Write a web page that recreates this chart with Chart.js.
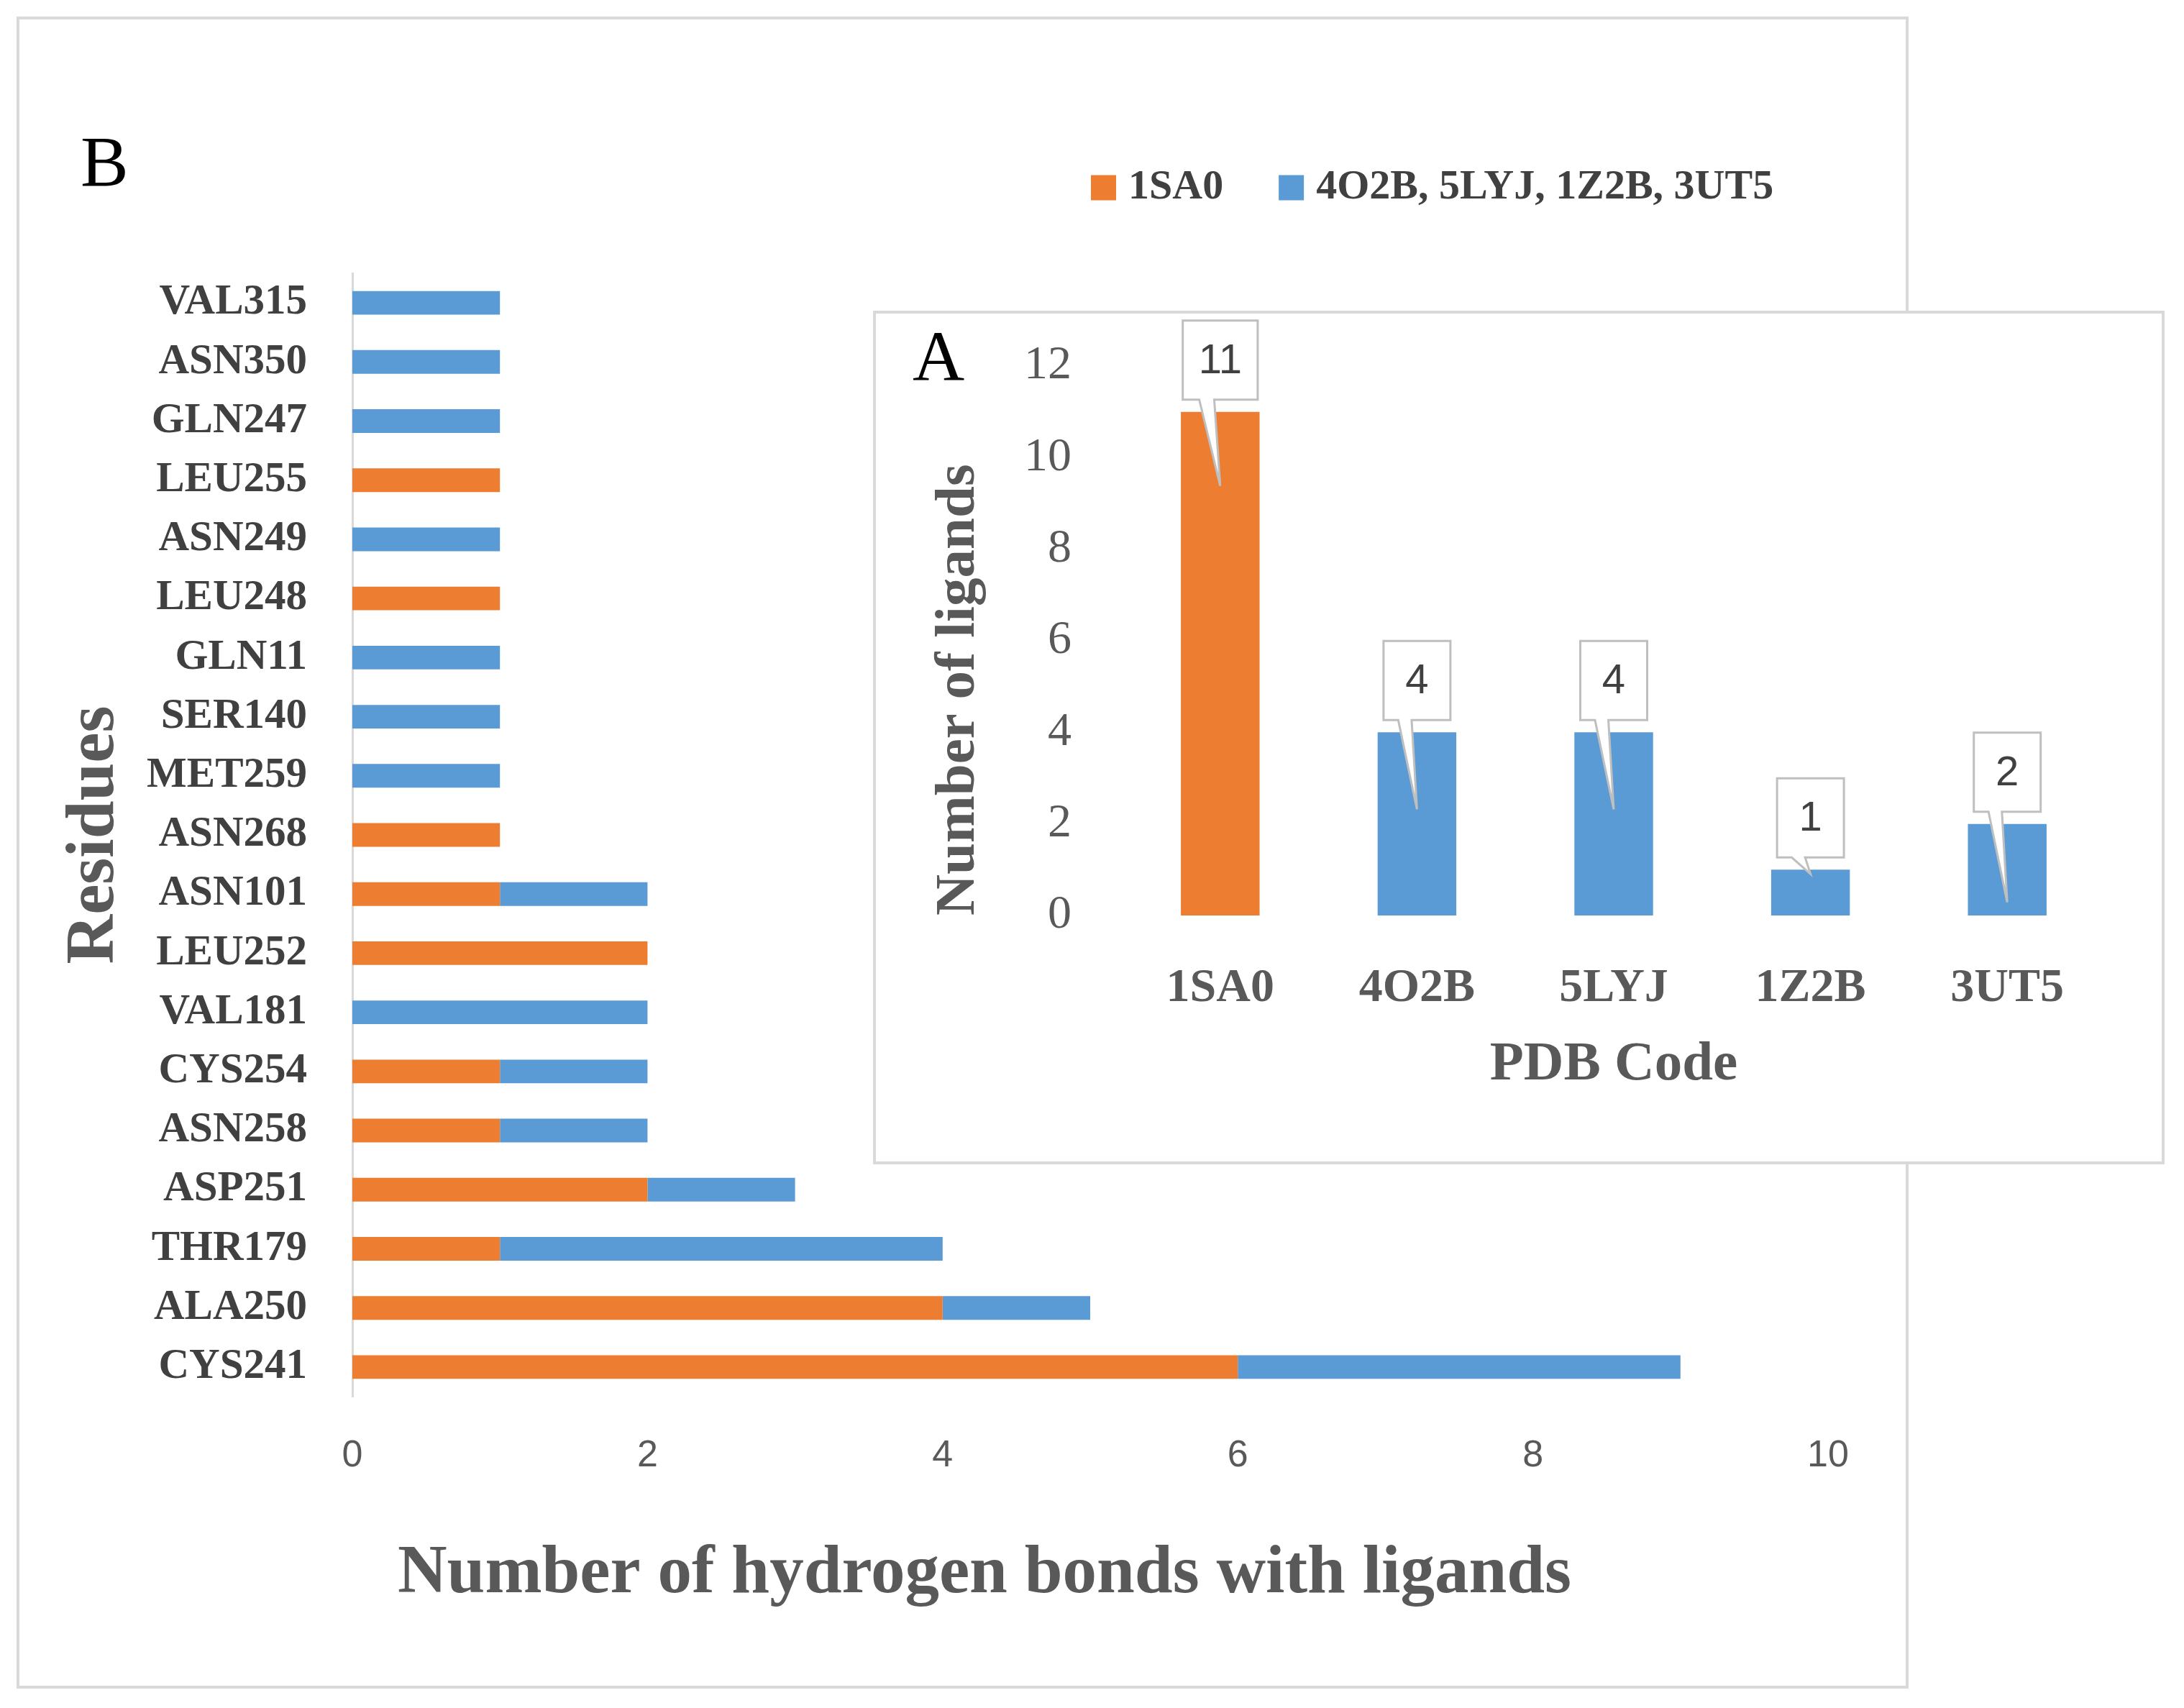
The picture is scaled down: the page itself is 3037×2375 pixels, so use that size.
<!DOCTYPE html>
<html>
<head>
<meta charset="utf-8">
<script src="https://cdn.jsdelivr.net/npm/chart.js@4.4.1/dist/chart.umd.min.js"></script>
<style>
  html, body { margin: 0; padding: 0; background: #fff; }
  body { width: 3037px; height: 2375px; position: relative; overflow: hidden; }
  #boxB { position: absolute; left: 23px; top: 23px; width: 2631px; height: 2325px; }
  #boxA { position: absolute; left: 1214px; top: 432px; width: 1796px; height: 1187px; }
</style>
</head>
<body>
<div id="boxB"><canvas id="chartB" width="2631" height="2325"></canvas></div>
<div id="boxA"><canvas id="chartA" width="1796" height="1187"></canvas></div>
<script>
// ── Données (panneau B : liaisons H par résidu) ─────────────────────────────
const residues = ['VAL315', 'ASN350', 'GLN247', 'LEU255', 'ASN249', 'LEU248', 'GLN11',
  'SER140', 'MET259', 'ASN268', 'ASN101', 'LEU252', 'VAL181', 'CYS254', 'ASN258',
  'ASP251', 'THR179', 'ALA250', 'CYS241'];
const bonds1SA0   = [0, 0, 0, 1, 0, 1, 0, 0, 0, 1, 1, 2, 0, 1, 1, 2, 1, 4, 6];
const bondsOthers = [1, 1, 1, 0, 1, 0, 1, 1, 1, 0, 1, 0, 2, 1, 1, 1, 3, 1, 3];
const seriesNames = ['1SA0', '4O2B, 5LYJ, 1Z2B, 3UT5'];
const bondsAxisMax = 10;

// ── Données (panneau A : ligands par code PDB) ─────────────────────────────
const pdbCodes     = ['1SA0', '4O2B', '5LYJ', '1Z2B', '3UT5'];
const ligandCounts = [11, 4, 4, 1, 2];
const ligandAxisMax = 12;

const ORANGE = '#ED7D31';
const BLUE   = '#5B9BD5';
const SERIF  = "'Liberation Serif', serif";
const SANS   = "'Liberation Sans', sans-serif";

Chart.defaults.font.family = SERIF;

// ── Plugins ────────────────────────────────────────────────────────────────
const framePlugin = {
  id: 'frame',
  beforeDraw(chart) {
    const { ctx, width, height } = chart;
    ctx.save();
    ctx.fillStyle = '#ffffff';
    ctx.fillRect(0, 0, width, height);
    ctx.strokeStyle = '#d9d9d9';
    ctx.lineWidth = 4;
    ctx.strokeRect(2, 2, width - 4, height - 4);
    ctx.restore();
  },
};

const panelLetter = {
  id: 'panelLetter',
  afterDraw(chart, args, opts) {
    const ctx = chart.ctx;
    ctx.save();
    ctx.font = `${opts.size}px ${SERIF}`;
    ctx.fillStyle = '#000000';
    ctx.textBaseline = 'middle';
    ctx.fillText(opts.text, opts.x, opts.y);
    ctx.restore();
  },
};

// légende maison, lue dans les datasets
const legendB = {
  id: 'legendB',
  afterDraw(chart, args, opts) {
    const ctx = chart.ctx;
    ctx.save();
    ctx.font = `bold 58px ${SERIF}`;
    ctx.textBaseline = 'middle';
    let x = opts.x;
    const y = opts.y, sq = 35;
    chart.data.datasets.forEach(ds => {
      ctx.fillStyle = ds.backgroundColor;
      ctx.fillRect(x, y - sq / 2, sq, sq);
      x += sq + 17;
      ctx.fillStyle = '#404040';
      ctx.fillText(ds.label, x, y);
      x += ctx.measureText(ds.label).width + 77;
    });
    ctx.restore();
  },
};

// titre de l'axe X du panneau B (décalé du centre de la zone comme dans Excel)
const xTitleB = {
  id: 'xTitleB',
  afterDraw(chart, args, opts) {
    const ctx = chart.ctx;
    ctx.save();
    ctx.font = `bold 95px ${SERIF}`;
    ctx.fillStyle = '#595959';
    ctx.textAlign = 'center';
    ctx.textBaseline = 'middle';
    ctx.fillText(opts.text, opts.x, opts.y);
    ctx.restore();
  },
};

// bulles d'étiquettes du panneau A
const callouts = {
  id: 'callouts',
  afterDatasetsDraw(chart, args, opts) {
    const ctx = chart.ctx;
    const meta = chart.getDatasetMeta(0);
    const values = chart.data.datasets[0].data;
    ctx.save();
    ctx.font = `58px ${SANS}`;
    meta.data.forEach((bar, i) => {
      const txt = String(values[i]);
      const w = Math.max(93, ctx.measureText(txt).width + 44);
      const h = 110;
      const left = bar.x - w / 2;
      const bottom = bar.y - 17;
      const top = bottom - h;
      const tipY = bottom + opts.tails[i];
      ctx.beginPath();
      ctx.moveTo(left, top);
      ctx.lineTo(left + w, top);
      ctx.lineTo(left + w, bottom);
      ctx.lineTo(left + 0.42 * w, bottom);
      ctx.lineTo(bar.x, tipY);
      ctx.lineTo(left + 0.22 * w, bottom);
      ctx.lineTo(left, bottom);
      ctx.closePath();
      ctx.fillStyle = '#ffffff';
      ctx.fill();
      ctx.strokeStyle = '#bfbfbf';
      ctx.lineWidth = 3;
      ctx.stroke();
      ctx.fillStyle = '#404040';
      ctx.textAlign = 'center';
      ctx.textBaseline = 'middle';
      ctx.fillText(txt, bar.x, top + h / 2 + 2);
    });
    ctx.restore();
  },
};

// ── Panneau B ──────────────────────────────────────────────────────────────
new Chart(document.getElementById('chartB'), {
  type: 'bar',
  data: {
    labels: residues,
    datasets: [
      { label: seriesNames[0], data: bonds1SA0,   backgroundColor: ORANGE, barPercentage: 0.40, categoryPercentage: 1 },
      { label: seriesNames[1], data: bondsOthers, backgroundColor: BLUE,   barPercentage: 0.40, categoryPercentage: 1 },
    ],
  },
  options: {
    indexAxis: 'y',
    responsive: false,
    devicePixelRatio: 1,
    animation: false,
    layout: { padding: { top: 357, right: 112, left: 0, bottom: 0 } },
    plugins: {
      legend: { display: false },
      tooltip: { enabled: false },
      panelLetter: { text: 'B', x: 89, y: 209, size: 100 },
      legendB: { x: 1494, y: 238 },
      xTitleB: { text: 'Number of hydrogen bonds with ligands', x: 1346, y: 2166 },
    },
    scales: {
      x: {
        stacked: true,
        min: 0,
        max: bondsAxisMax,
        grid: { display: false },
        border: { display: false },
        ticks: { stepSize: 2, color: '#595959', padding: 43, font: { family: SANS, size: 52 } },
        afterFit: s => { s.height = 406; },
      },
      y: {
        stacked: true,
        grid: { display: false },
        border: { display: true, color: '#d9d9d9', width: 3 },
        ticks: { color: '#404040', padding: 55, font: { family: SERIF, size: 59, weight: 'bold' } },
        title: {
          display: true, text: 'Residues', color: '#595959',
          font: { family: SERIF, size: 95, weight: 'bold' },
          padding: { top: 52, bottom: 0 },
        },
        afterFit: s => { s.width = 467; },
      },
    },
  },
  plugins: [framePlugin, panelLetter, legendB, xTitleB],
});

// ── Panneau A (encart) ─────────────────────────────────────────────────────
new Chart(document.getElementById('chartA'), {
  type: 'bar',
  data: {
    labels: pdbCodes,
    datasets: [{
      label: 'Number of ligands',
      data: ligandCounts,
      backgroundColor: pdbCodes.map((c, i) => (i === 0 ? ORANGE : BLUE)),
      barPercentage: 0.40,
      categoryPercentage: 1,
    }],
  },
  options: {
    responsive: false,
    devicePixelRatio: 1,
    animation: false,
    layout: { padding: { top: 77, right: 82, left: 0, bottom: 0 } },
    plugins: {
      legend: { display: false },
      tooltip: { enabled: false },
      panelLetter: { text: 'A', x: 55, y: 71, size: 100 },
      callouts: { tails: [120, 124, 124, 23, 126] },
    },
    scales: {
      x: {
        grid: { display: false },
        border: { display: false },
        ticks: { color: '#595959', padding: 54, font: { family: SERIF, size: 66, weight: 'bold' } },
        title: {
          display: true, text: 'PDB Code', color: '#595959',
          font: { family: SERIF, size: 77, weight: 'bold' },
          padding: { top: 0, bottom: 92 },
        },
        afterFit: s => { s.height = 346; },
      },
      y: {
        min: 0,
        max: ligandAxisMax,
        grid: { display: false },
        border: { display: false },
        // lineHeight réduit : sinon la demi-hauteur du label + padding repousse le haut de la zone
        ticks: { stepSize: 2, color: '#595959', padding: 62, font: { family: SERIF, size: 66, lineHeight: 0.4 } },
        title: {
          display: true, text: 'Number of ligands', align: 'start', color: '#595959',
          font: { family: SERIF, size: 79, weight: 'bold' },
          padding: { top: 72, bottom: 0 },
        },
        afterFit: s => { s.width = 346; },
      },
    },
  },
  plugins: [framePlugin, panelLetter, callouts],
});
</script>
</body>
</html>
